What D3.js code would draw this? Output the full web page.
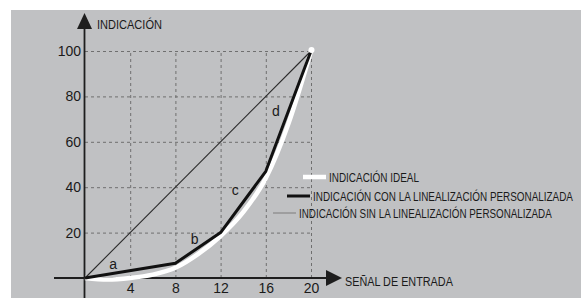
<!DOCTYPE html>
<html>
<head>
<meta charset="utf-8">
<script src="https://cdn.jsdelivr.net/npm/d3@7"></script>
<style>
  body { margin: 0; background: #fff; }
  svg { display: block; }
  text { font-family: 'Liberation Sans', Arial, sans-serif; fill: #1a1a1a; }
</style>
</head>
<body>
<svg width="581" height="298"></svg>
<script>
// values
let xTicks = [4, 8, 12, 16, 20]
let yTicks = [20, 40, 60, 80, 100]

let idealX = [0, 2, 4, 6, 8, 10, 12, 14, 16, 18, 20]
let idealY = [0, -0.7, 0, 1.5, 4.5, 10.5, 18.5, 29, 44, 68, 100]

let customX = [0, 8, 12, 16, 20]
let customY = [0, 6.5, 20, 47, 100]

let plainX = [0, 20]
let plainY = [0, 100]

let segLetters = ['a', 'b', 'c', 'd']
let segX = [2.5, 9.7, 13.3, 16.9]
let segY = [4, 15, 36.5, 71.5]

let legendNames = [
  'INDICACIÓN IDEAL',
  'INDICACIÓN CON LA LINEALIZACIÓN PERSONALIZADA',
  'INDICACIÓN SIN LA LINEALIZACIÓN PERSONALIZADA'
]

let svg = d3.select('svg')

svg.append('rect')
  .attr('x', 11).attr('y', 10)
  .attr('width', 570).attr('height', 288)
  .attr('fill', '#c0c1c3')

let x = d3.scaleLinear().domain([0, 20]).range([85, 311])
let y = d3.scaleLinear().domain([0, 100]).range([278, 51])

let ink = '#1e1e1e'

// squeeze a label horizontally so it spans the given width (narrow face look)
function narrowText (parent, str, px, py, size, width) {
  let g = parent.append('g')
  let t = g.append('text')
    .style('font-size', size + 'px')
    .text(str)
  let k = width / t.node().getComputedTextLength()
  g.attr('transform', 'translate(' + px + ',' + py + ') scale(' + k + ',1)')
  return g
}

// dashed grid
let grid = svg.append('g')
  .attr('stroke', '#6f6f6f')
  .attr('stroke-width', 1)
  .attr('stroke-dasharray', '3,3')

grid.selectAll('.h').data(yTicks).enter().append('line')
  .attr('x1', x(0)).attr('x2', x(20))
  .attr('y1', d => y(d) + 0.5).attr('y2', d => y(d) + 0.5)

grid.selectAll('.v').data(xTicks).enter().append('line')
  .attr('x1', d => x(d) + 0.5).attr('x2', d => x(d) + 0.5)
  .attr('y1', y(0)).attr('y2', y(100))

// axes
let yAxis = d3.axisLeft(y).tickValues(yTicks).tickSize(0).tickPadding(4)
let gy = svg.append('g').attr('transform', 'translate(' + x(0) + ',0)').call(yAxis)
gy.select('.domain').remove()
gy.selectAll('text')
  .style('font-family', "'Liberation Sans', Arial, sans-serif")
  .style('font-size', '14px')
  .attr('fill', ink)

let xAxis = d3.axisBottom(x).tickValues(xTicks).tickSize(0).tickPadding(5)
let gx = svg.append('g').attr('transform', 'translate(0,' + y(0) + ')').call(xAxis)
gx.select('.domain').remove()
gx.selectAll('text')
  .style('font-family', "'Liberation Sans', Arial, sans-serif")
  .style('font-size', '14px')
  .attr('fill', ink)

svg.append('line')
  .attr('x1', x(0) - 0.5).attr('x2', x(0) - 0.5)
  .attr('y1', 298).attr('y2', 26)
  .attr('stroke', ink).attr('stroke-width', 1.8)
svg.append('path')
  .attr('d', 'M' + (x(0) - 8) + ',29L' + (x(0) - 0.5) + ',13L' + (x(0) + 7) + ',29Z')
  .attr('fill', ink)

svg.append('line')
  .attr('x1', 54).attr('x2', 328)
  .attr('y1', y(0)).attr('y2', y(0))
  .attr('stroke', ink).attr('stroke-width', 1.8)
svg.append('path')
  .attr('d', 'M326,' + (y(0) - 8) + 'L342,' + y(0) + 'L326,' + (y(0) + 8) + 'Z')
  .attr('fill', ink)

narrowText(svg, 'INDICACIÓN', 97, 29, 13, 65)
narrowText(svg, 'SEÑAL DE ENTRADA', 345, 285.5, 13, 108)

// curves
let idealPts = d3.zip(idealX, idealY)
let customPts = d3.zip(customX, customY)
let plainPts = d3.zip(plainX, plainY)

let smooth = d3.line().x(d => x(d[0])).y(d => y(d[1])).curve(d3.curveMonotoneX)
let straight = d3.line().x(d => x(d[0])).y(d => y(d[1]))

svg.append('path').datum(idealPts)
  .attr('d', smooth)
  .attr('fill', 'none').attr('stroke', '#ffffff').attr('stroke-width', 4.5)

svg.append('path').datum(plainPts)
  .attr('d', straight)
  .attr('fill', 'none').attr('stroke', '#2a2a2a').attr('stroke-width', 1.1)

svg.append('path').datum(customPts)
  .attr('d', straight)
  .attr('fill', 'none').attr('stroke', '#111').attr('stroke-width', 3)
  .attr('stroke-linejoin', 'round')

svg.append('circle')
  .attr('cx', x(20) + 0.5).attr('cy', y(100) - 1)
  .attr('r', 3).attr('fill', '#fff')

// segment letters
svg.selectAll('.seg').data(segLetters).enter().append('text')
  .attr('x', (d, i) => x(segX[i]))
  .attr('y', (d, i) => y(segY[i]))
  .attr('text-anchor', 'middle')
  .style('font-size', '14px')
  .text(d => d)

// legend
let legendStroke = ['#ffffff', '#111', '#8c8c8c']
let legendWidth = [4.5, 3, 1.3]
let legendX = [303, 287, 273]
let legendRowY = [177, 196, 213]
let legendTextLen = [90, 260, 253]

legendNames.forEach(function (name, i) {
  svg.append('line')
    .attr('x1', legendX[i]).attr('x2', legendX[i] + 23)
    .attr('y1', legendRowY[i]).attr('y2', legendRowY[i])
    .attr('stroke', legendStroke[i])
    .attr('stroke-width', legendWidth[i])
  narrowText(svg, name, legendX[i] + 26, legendRowY[i] + 4.5, 12.5, legendTextLen[i])
})
</script>
</body>
</html>
